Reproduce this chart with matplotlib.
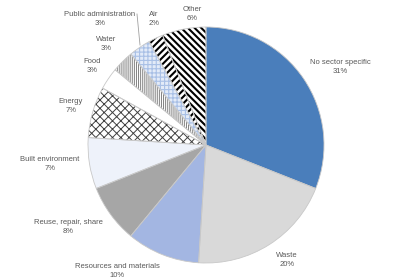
import matplotlib.pyplot as plt

plt.rcParams['font.family'] = ['Liberation Sans', 'DejaVu Sans']

sectors = ['No sector specific', 'Waste', 'Resources and materials',
           'Reuse, repair, share', 'Built environment', 'Energy', 'Food',
           'Water', 'Public administration', 'Air', 'Other']
shares = [31, 20, 10, 8, 7, 7, 3, 3, 3, 2, 6]

# fill colour, hatch colour, hatch pattern, hatch width
faces = ['#4a7ebb', '#d9d9d9', '#a3b6e2', '#a6a6a6', '#eef2fa', 'white',
         'white', 'white', '#e3ebf8', 'white', 'white']
hcols = ['#4a7ebb', '#d9d9d9', '#a3b6e2', '#a6a6a6', '#eef2fa', '#404040',
         'white', '#808080', '#a9c0e6', 'black', 'black']
hatches = [None, None, None, None, None, 'xxxx', None, '|' * 8, '+' * 4,
           '/' * 5, '\\' * 5]
hwidths = [1, 1, 1, 1, 1, 0.7, 1, 0.7, 0.8, 1.5, 1.5]

# label centres in pixel coords of the 400x278 image
label_xy = [(340, 67), (287, 260), (117, 271), (68, 227), (50, 164),
            (71, 106), (92, 66), (106, 44), (100, 19), (154, 19), (192, 14)]

H = 278
fig = plt.figure(figsize=(4, 2.78), dpi=100)
ax = fig.add_axes([0, 0, 1, 1])

cx, cy, r = 206, H - 145, 118
wedges, _ = ax.pie(shares, startangle=90, counterclock=False, center=(cx, cy),
                   radius=r, colors=faces, frame=True,
                   wedgeprops=dict(linewidth=0))
for w, hc, h, lw in zip(wedges, hcols, hatches, hwidths):
    w.set_edgecolor(hc)
    if h:
        w.set_hatch(h)
        w.set_hatch_linewidth(lw)

# thin slice borders
ax.pie(shares, startangle=90, counterclock=False, center=(cx, cy), radius=r,
       colors=['none'] * len(shares), frame=True,
       wedgeprops=dict(linewidth=0.6, edgecolor='#c8c8c8', fill=False))
ax.set_xlim(0, 400)
ax.set_ylim(0, H)
ax.set_aspect('equal')
ax.axis('off')

for name, v, (x, y) in zip(sectors, shares, label_xy):
    ax.text(x, H - y, f'{name}\n{v}%', ha='center', va='center',
            fontsize=5.5, color='#595959', linespacing=1.25)

# leader line for Public administration
ax.plot([137, 140], [H - 14, H - 45], color='#a0a0a0', lw=0.6)

fig.savefig('out.png', dpi=100)
